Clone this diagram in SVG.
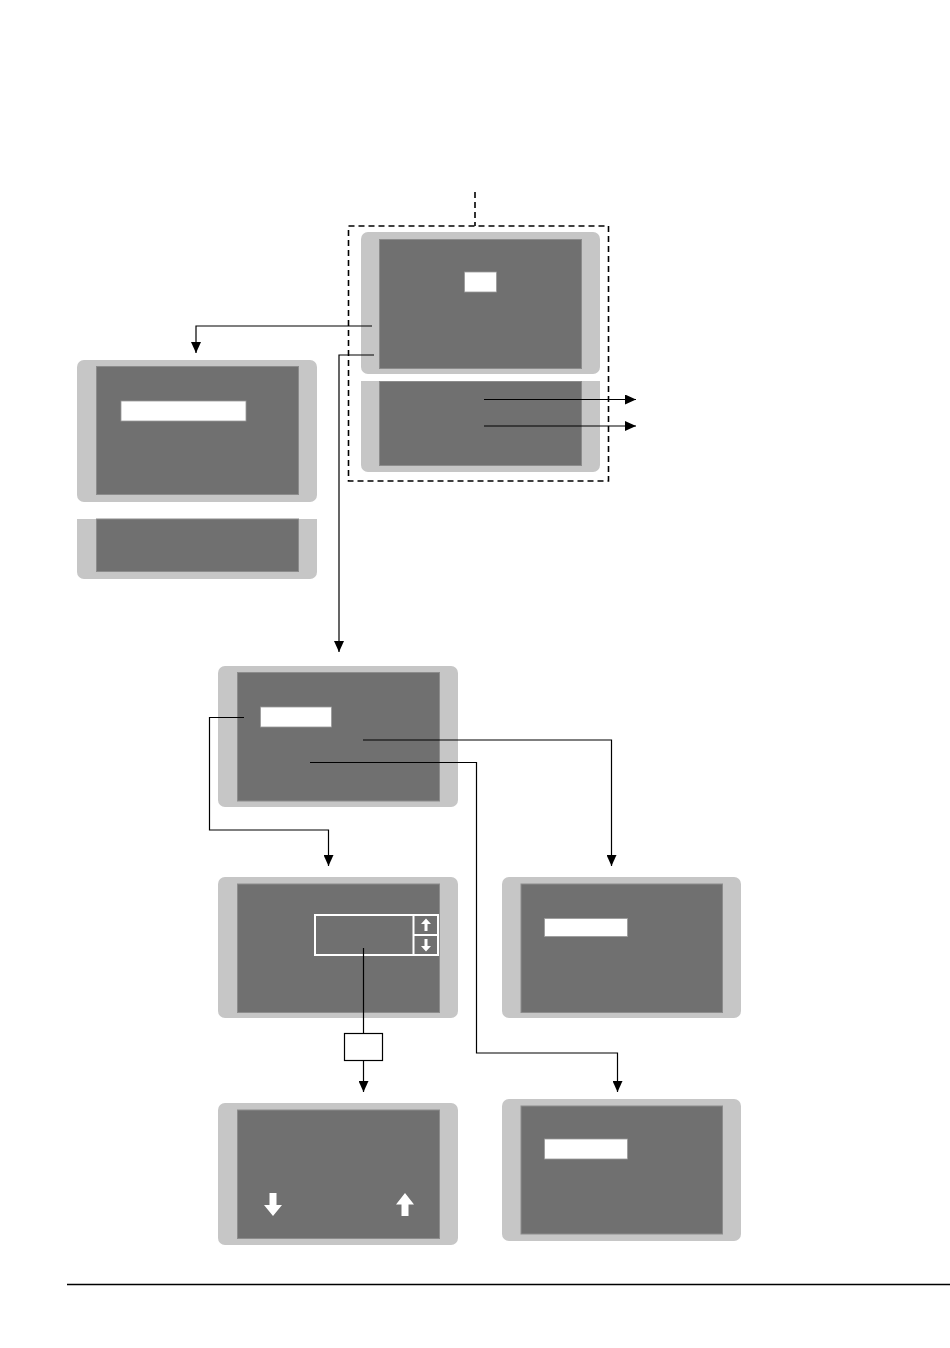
<svg xmlns="http://www.w3.org/2000/svg" width="950" height="1348" viewBox="0 0 950 1348">
<style>
.bez{fill:#c6c6c6}
.scr{fill:#707070;stroke:#8c8c8c;stroke-width:1}
.hl{fill:#ffffff;stroke:#9a9a9a;stroke-width:0.8}
.ln{fill:none;stroke:#000;stroke-width:1.2}
.ar{fill:none;stroke:#000;stroke-width:1.2;marker-end:url(#ah)}
.wa{fill:#ffffff}
</style>
<defs>
<marker id="ah" markerUnits="userSpaceOnUse" markerWidth="12" markerHeight="10" refX="11" refY="5" orient="auto">
<path d="M0,0 L11,5 L0,10 z" fill="#000"/>
</marker>
</defs>
<rect width="950" height="1348" fill="#fff"/>

<g id="main-group">
<path d="M475,192 V226" fill="none" stroke="#000" stroke-width="1.6" stroke-dasharray="6,4"/>
<rect x="348.5" y="226" width="260" height="255" fill="none" stroke="#000" stroke-width="1.6" stroke-dasharray="6,4"/>
</g>

<g id="main-screen">
<rect class="bez" x="361" y="232" width="239" height="142" rx="7"/>
<rect class="scr" x="379.5" y="239.5" width="202" height="129"/>
<rect class="hl" x="464.5" y="272" width="32" height="20"/>
</g>

<g id="main-lower">
<path class="bez" d="M361,381 H600 V465 a7,7 0 0 1 -7,7 H368 a7,7 0 0 1 -7,-7 z"/>
<rect class="scr" x="379.5" y="381.5" width="202" height="84"/>
</g>

<g id="left-screen">
<rect class="bez" x="77" y="360" width="240" height="142" rx="7"/>
<rect class="scr" x="96.5" y="366.5" width="202" height="128"/>
<rect class="hl" x="121" y="401" width="125" height="20"/>
</g>

<g id="left-lower">
<path class="bez" d="M77,519 H317 V572 a7,7 0 0 1 -7,7 H84 a7,7 0 0 1 -7,-7 z"/>
<rect class="scr" x="96.5" y="519" width="202" height="52.5"/>
</g>

<g id="menu-screen">
<rect class="bez" x="218" y="666" width="240" height="141" rx="7"/>
<rect class="scr" x="237.5" y="672.5" width="202" height="128.5"/>
<rect class="hl" x="260.5" y="707" width="71" height="20"/>
</g>

<g id="spinner-screen">
<rect class="bez" x="218" y="877" width="240" height="141" rx="7"/>
<rect class="scr" x="237.5" y="884" width="202" height="128.5"/>
<rect x="315" y="915" width="123" height="40" fill="none" stroke="#fff" stroke-width="2"/>
<path d="M413.5,915 V955 M413.5,935 H438" fill="none" stroke="#fff" stroke-width="2"/>
<polygon class="wa" points="426,918.5 431,924 427.5,924 427.5,931 424.5,931 424.5,924 421,924"/>
<polygon class="wa" points="426,951.5 431,946 427.5,946 427.5,939 424.5,939 424.5,946 421,946"/>
</g>

<g id="confirm-box">
<rect x="344.5" y="1033.5" width="38" height="27" fill="#fff" stroke="#000" stroke-width="1.2"/>
</g>

<g id="result-screen">
<rect class="bez" x="218" y="1103" width="240" height="142" rx="7"/>
<rect class="scr" x="237.5" y="1110" width="202" height="128.5"/>
<polygon class="wa" points="269.5,1193 276.5,1193 276.5,1205 282,1205 273,1216 264,1205 269.5,1205"/>
<polygon class="wa" points="405,1193 414,1204.5 408.5,1204.5 408.5,1216 401.5,1216 401.5,1204.5 396,1204.5"/>
</g>

<g id="right-screen-1">
<rect class="bez" x="502" y="877" width="239" height="141" rx="7"/>
<rect class="scr" x="521" y="884" width="201.5" height="128.5"/>
<rect class="hl" x="544.5" y="918.5" width="83" height="18"/>
</g>

<g id="right-screen-2">
<rect class="bez" x="502" y="1099" width="239" height="142" rx="7"/>
<rect class="scr" x="521" y="1106" width="201.5" height="128"/>
<rect class="hl" x="544.5" y="1139" width="83" height="20"/>
</g>

<g id="connectors">
<path class="ar" d="M372,326 H196 V353"/>
<path class="ar" d="M374,355 H339 V652"/>
<path class="ar" d="M484,399.5 H636"/>
<path class="ar" d="M484,426 H636"/>
<path class="ar" d="M244,717.5 H209.5 V830 H328.5 V866"/>
<path class="ar" d="M363,740 H611.5 V866"/>
<path class="ar" d="M310,762.5 H476.5 V1053 H617.5 V1092"/>
<path class="ln" d="M363.5,948 V1033.5"/>
<path class="ar" d="M363.5,1060.5 V1092"/>
</g>

<line x1="67" y1="1284.5" x2="950" y2="1284.5" stroke="#000" stroke-width="1.5"/>
</svg>
